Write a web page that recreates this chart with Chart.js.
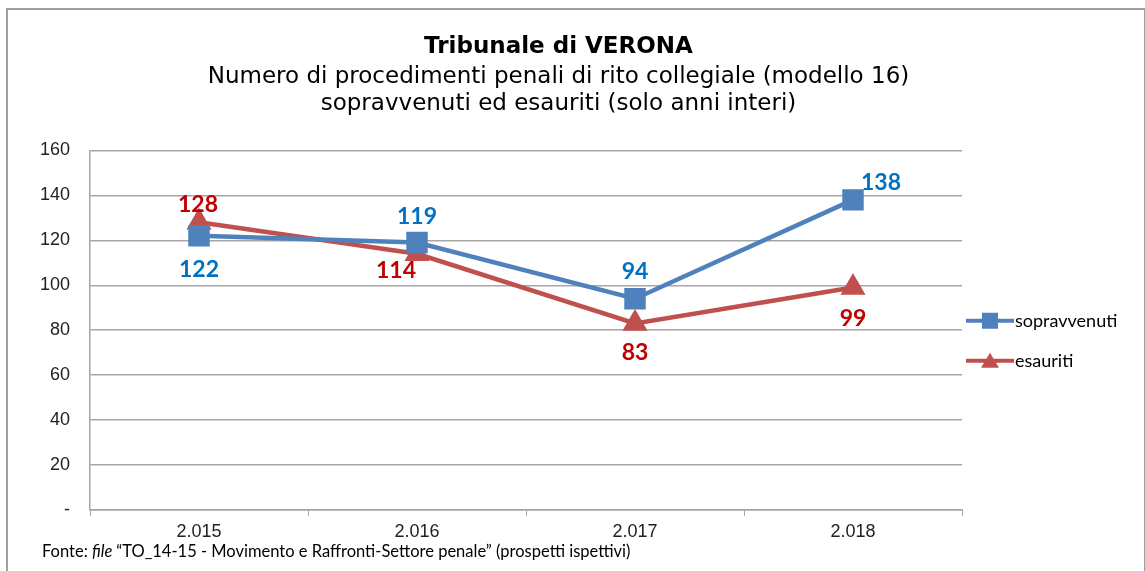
<!DOCTYPE html>
<html>
<head>
<meta charset="utf-8">
<script src="https://cdn.jsdelivr.net/npm/chart.js@4.4.0/dist/chart.umd.min.js"></script>
<style>
  html, body { margin: 0; padding: 0; background: #fff; }
  #wrap { position: absolute; left: 0; top: 0; width: 1145px; height: 571px; }
  #frame { position: absolute; left: 6px; top: 8px; width: 1136px; height: 600px; border: 2px solid #a0a0a0; border-bottom: none; }
</style>
</head>
<body>
<div id="wrap">
  <div id="frame"></div>
  <canvas id="myChart" width="1145" height="571"></canvas>
</div>
<script>
var years = ["2.015", "2.016", "2.017", "2.018"];
var sopravvenuti = [122, 119, 94, 138];
var esauriti = [128, 114, 83, 99];
var yTicks = [0, 20, 40, 60, 80, 100, 120, 140, 160];

var blue = "#4f81bd";
var red = "#c0504d";

// label offsets from each point, [dx, dy] in px
var sopOffsets = [[0, 34], [0, -26], [0, -27], [28, -17]];
var esaOffsets = [[-1, -18], [-21, 17], [0, 29], [0, 31]];

// legend icon: line with marker, drawn in the left 48px of a 58px canvas
function legendIcon(color, shape) {
    var c = document.createElement("canvas");
    c.width = 58;
    c.height = 18;
    var g = c.getContext("2d");
    g.strokeStyle = color;
    g.lineWidth = 4;
    g.beginPath();
    g.moveTo(0, 9);
    g.lineTo(48, 9);
    g.stroke();
    g.fillStyle = color;
    if (shape == "rect") {
        g.fillRect(16, 1, 16, 16);
    } else {
        g.beginPath();
        g.moveTo(24, 1);
        g.lineTo(33, 16);
        g.lineTo(15, 16);
        g.closePath();
        g.fill();
    }
    return c;
}

var valueLabels = {
    id: "valueLabels",
    afterDatasetsDraw: function (chart) {
        var ctx = chart.ctx;
        ctx.save();
        ctx.font = "bold 23px Lato";
        ctx.textAlign = "center";
        ctx.textBaseline = "middle";
        chart.data.datasets.forEach(function (ds, i) {
            var meta = chart.getDatasetMeta(i);
            ctx.fillStyle = ds.labelColor;
            meta.data.forEach(function (pt, j) {
                var off = ds.labelOffsets[j];
                ctx.fillText(ds.data[j], pt.x + off[0], pt.y + off[1]);
            });
        });
        ctx.restore();
    }
};

var footer = {
    id: "footer",
    afterDraw: function (chart) {
        var ctx = chart.ctx;
        ctx.save();
        ctx.fillStyle = "#000";
        ctx.textBaseline = "middle";
        var x = 42, y = 552;
        var parts = [
            ["16.5px Lato", "Fonte: "],
            ["italic 16.5px Lato", "file "],
            ["16.5px Lato", "\u201cTO_14-15 - Movimento e Raffronti-Settore penale\u201d (prospetti ispettivi)"]
        ];
        parts.forEach(function (p) {
            ctx.font = p[0];
            ctx.fillText(p[1], x, y);
            x += ctx.measureText(p[1]).width;
        });
        ctx.restore();
    }
};

var ctx = document.getElementById("myChart");

var myChart = new Chart(ctx, {
    type: "line",
    data: {
        labels: years,
        datasets: [
            {
                label: "sopravvenuti",
                data: sopravvenuti,
                borderColor: blue,
                backgroundColor: blue,
                borderWidth: 4.5,
                pointStyle: "rect",
                pointRadius: 12,
                pointHoverRadius: 12,
                labelColor: "#0070c0",
                labelOffsets: sopOffsets,
                legendIcon: legendIcon(blue, "rect")
            },
            {
                label: "esauriti",
                data: esauriti,
                borderColor: red,
                backgroundColor: red,
                borderWidth: 4.5,
                pointStyle: "triangle",
                pointRadius: 10,
                pointHoverRadius: 10,
                labelColor: "#c00000",
                labelOffsets: esaOffsets,
                legendIcon: legendIcon(red, "triangle")
            }
        ]
    },
    options: {
        responsive: false,
        animation: false,
        layout: { padding: { left: 0, right: 28, top: 20, bottom: 26 } },
        plugins: {
            title: {
                display: true,
                text: "Tribunale di VERONA",
                color: "#000",
                font: { family: "DejaVu Sans", size: 23, weight: "bold" },
                padding: { top: 13, bottom: 3 }
            },
            subtitle: {
                display: true,
                text: ["Numero di procedimenti penali di rito collegiale (modello 16)",
                       "sopravvenuti ed esauriti (solo anni interi)"],
                color: "#000",
                font: { family: "DejaVu Sans", size: 23, lineHeight: 1.17 },
                padding: { top: 0, bottom: 33 }
            },
            legend: {
                position: "right",
                maxWidth: 155,
                title: { display: true, text: "", font: { size: 12 }, padding: { top: 0, bottom: 102 } },
                labels: {
                    usePointStyle: true,
                    pointStyleWidth: 22,
                    color: "#000",
                    font: { family: "Lato", size: 18 },
                    padding: 22,
                    generateLabels: function (chart) {
                        return chart.data.datasets.map(function (ds, i) {
                            return {
                                text: ds.label,
                                pointStyle: ds.legendIcon,
                                fontColor: "#000",
                                datasetIndex: i,
                                lineWidth: 0
                            };
                        });
                    }
                }
            },
            tooltip: { enabled: false }
        },
        scales: {
            x: {
                offset: true,
                grid: { display: true, drawOnChartArea: false, drawTicks: true, tickLength: 6, color: "#a6a6a6", offset: true },
                border: { color: "#a6a6a6", width: 1.5 },
                ticks: { color: "#222", font: { family: "Liberation Sans", size: 18 }, padding: 5 },
                afterFit: function (scale) { scale.height = 35; }
            },
            y: {
                min: 0,
                max: 160,
                afterBuildTicks: function (scale) {
                    scale.ticks = yTicks.map(function (v) { return { value: v }; });
                },
                grid: { color: "#a6a6a6", lineWidth: 1.5, drawTicks: false },
                border: { color: "#a6a6a6", width: 1.5 },
                ticks: {
                    color: "#222",
                    font: { family: "Liberation Sans", size: 18 },
                    padding: 20,
                    callback: function (v) { return v === 0 ? "-" : v; }
                },
                afterFit: function (scale) { scale.width = 90; }
            }
        }
    },
    plugins: [valueLabels, footer]
});
</script>
</body>
</html>
